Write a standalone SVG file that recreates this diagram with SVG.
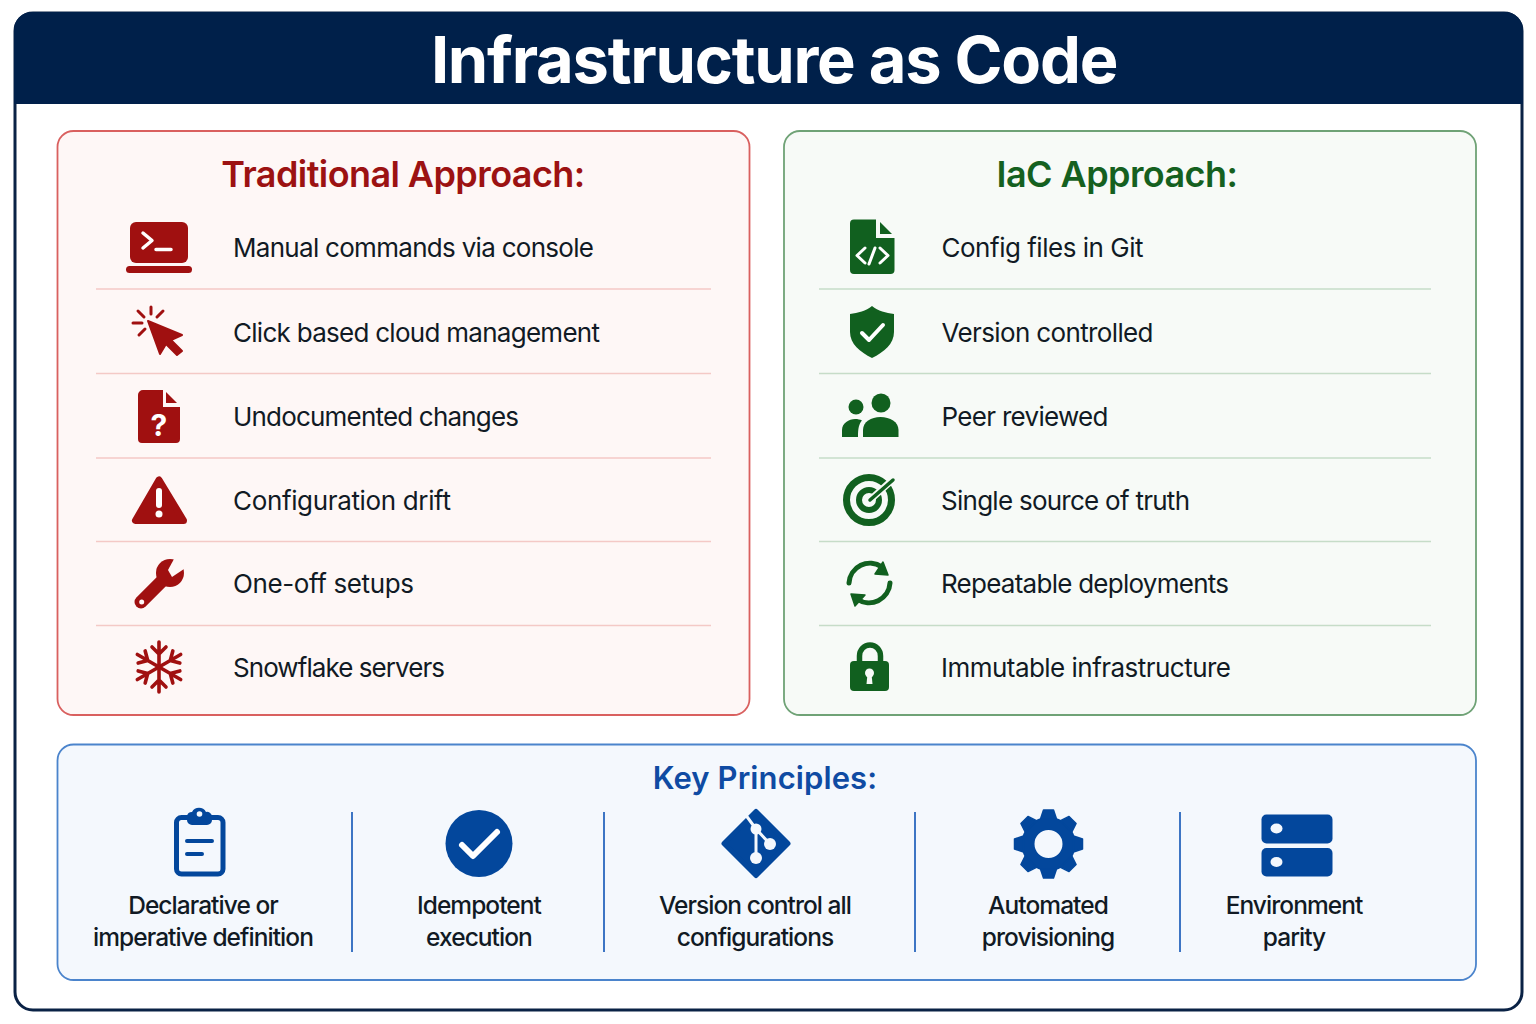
<svg xmlns="http://www.w3.org/2000/svg" width="1536" height="1024" viewBox="0 0 1536 1024">
<style>
text{font-family:"Inter","Liberation Sans",sans-serif}
.row{font-size:26px;fill:#111a24;font-weight:400}
.pr{font-size:24.500px;fill:#111a24;font-weight:500;text-anchor:middle;letter-spacing:-.95px}
.h{font-size:36px;font-weight:600;text-anchor:middle;letter-spacing:-.58px}
.r{fill:#a01010;stroke:none}
.g{fill:#11601f;stroke:none}
.b{fill:#03479c;stroke:none}
.dr{stroke:#f4c9c6;stroke-width:1.6}
.dg{stroke:#c6dcc8;stroke-width:1.6}
.sep{stroke:#3d75c4;stroke-width:2}
.wl{fill:none;stroke:#fff;stroke-linecap:round;stroke-linejoin:round}
</style>
<defs>
<g id="arm"><path d="M0,0V-25M-7,-20L0,-13L7,-20" fill="none" stroke="#a01010" stroke-width="3.600" stroke-linecap="round" stroke-linejoin="round"/></g>
<polygon id="tooth" points="-8,-25 -5,-34 5,-34 8,-25" fill="#03479c" stroke="#03479c" stroke-width="1.500" stroke-linejoin="round"/>
</defs>
<rect width="1536" height="1024" fill="#fff"/>
<g id="frame">
<rect x="15" y="13" width="1507" height="997" rx="18" fill="#fff" stroke="#0a2245" stroke-width="3"/>
<path d="M14,104V30A18,18 0 0 1 32,12H1505A18,18 0 0 1 1523,30V104Z" fill="#00204a"/>
<text x="774" y="83" font-size="65" font-weight="650" fill="#fff" text-anchor="middle" letter-spacing="-1.250">Infrastructure as Code</text>
</g>
<g id="traditional">
<rect x="57.500" y="131" width="692" height="584" rx="16" fill="#fef7f6" stroke="#d9605f" stroke-width="1.800"/>
<text class="h" x="403" y="187" fill="#9c1212">Traditional Approach:</text>
<g id="t1"><rect class="r" x="130" y="222" width="58" height="41" rx="6"/><rect class="r" x="126" y="266" width="66" height="7" rx="3.500"/><path class="wl" stroke-width="3.500" d="M143,233L152,240.500L143,248M156,249.500H171"/><text class="row" x="233" y="256.500" textLength="361">Manual commands via console</text></g>
<line class="dr" x1="96" y1="289" x2="711" y2="289"/>
<g id="t2"><path class="r" d="M148,321L182,335L171,340L182,351L177,355L166,344L160,354Z" style="stroke:#a01010;stroke-width:2;stroke-linejoin:round"/><path d="M151,307V314M138,311L144,317M163,311L157,317M133,323H142M139,335L145,329" stroke="#a01010" stroke-width="3" stroke-linecap="round"/><text class="row" x="233" y="341.500" textLength="367">Click based cloud management</text></g>
<line class="dr" x1="96" y1="373.500" x2="711" y2="373.500"/>
<g id="t3"><path class="r" d="M143,390H163V407H180V439A4,4 0 0 1 176,443H142A4,4 0 0 1 138,439V395A5,5 0 0 1 143,390Z"/><path class="r" d="M166,392L177,403H166Z"/><text x="159" y="435.500" font-size="30" font-weight="700" fill="#fff" text-anchor="middle">?</text><text class="row" x="233" y="425.500" textLength="286">Undocumented changes</text></g>
<line class="dr" x1="96" y1="458" x2="711" y2="458"/>
<g id="t4"><path class="r" style="stroke:#a01010;stroke-width:7;stroke-linejoin:round" d="M159,480L135.500,520.500H183.500Z"/><path d="M159,491V505" stroke="#fff" stroke-width="6" stroke-linecap="round"/><circle cx="159" cy="514" r="3.500" fill="#fff"/><text class="row" x="233" y="509.500" textLength="218">Configuration drift</text></g>
<line class="dr" x1="96" y1="541.500" x2="711" y2="541.500"/>
<g id="t5"><circle class="r" cx="170" cy="573" r="14"/><path d="M141,602L168,575" stroke="#a01010" stroke-width="13" stroke-linecap="round"/><path d="M174,559L168,570L172,577L184,569L190,555Z" fill="#fef7f6"/><circle cx="141.700" cy="602" r="2.500" fill="#fef7f6"/><text class="row" x="233" y="592.500" textLength="181">One-off setups</text></g>
<line class="dr" x1="96" y1="625.500" x2="711" y2="625.500"/>
<g id="t6"><use href="#arm" transform="translate(159,667)"/><use href="#arm" transform="translate(159,667) rotate(60)"/><use href="#arm" transform="translate(159,667) rotate(120)"/><use href="#arm" transform="translate(159,667) rotate(180)"/><use href="#arm" transform="translate(159,667) rotate(240)"/><use href="#arm" transform="translate(159,667) rotate(300)"/><text class="row" x="233" y="676.500" textLength="212">Snowflake servers</text></g>
</g>
<g id="iac">
<rect x="784" y="131" width="692" height="584" rx="16" fill="#f7faf7" stroke="#6fa276" stroke-width="1.800"/>
<text class="h" x="1117" y="187" fill="#15601f">IaC Approach:</text>
<g id="g1"><path class="g" d="M854,219.500H876V238H894.500V270A4,4 0 0 1 890.500,274H854A4,4 0 0 1 850,270V223.500A4,4 0 0 1 854,219.500Z"/><path class="g" d="M880,222L892,234H880Z"/><path class="wl" stroke-width="3" d="M865,248L857,255.500L865,263M875,248L869,264M880,248L888,255.500L880,263"/><text class="row" x="941.500" y="256.500" textLength="202">Config files in Git</text></g>
<line class="dg" x1="819" y1="289" x2="1431" y2="289"/>
<g id="g2"><path class="g" d="M872,306C866,311 858,313 850,314V332C850,344 860,352 872,358C884,352 894,344 894,332V314C886,313 878,311 872,306Z"/><path class="wl" stroke-width="4" d="M862,333L869,340L883,325"/><text class="row" x="941.500" y="341.500" textLength="212">Version controlled</text></g>
<line class="dg" x1="819" y1="373.500" x2="1431" y2="373.500"/>
<g id="g3"><circle class="g" cx="881" cy="403" r="9.500"/><circle class="g" cx="856" cy="407" r="7.500"/><path class="g" d="M863,437V430C863,422 871,417 880.500,417C890,417 898.500,422 898.500,430V437Z"/><path class="g" d="M842,437V430C842,423 849,419 855,419C858,419 860,419.500 862,420.500C859,424 858,428 858,437Z"/><text class="row" x="941.500" y="425.500" textLength="167">Peer reviewed</text></g>
<line class="dg" x1="819" y1="458" x2="1431" y2="458"/>
<g id="g4"><circle cx="869" cy="500" r="22.500" fill="none" stroke="#11601f" stroke-width="7"/><circle cx="869" cy="500" r="10" fill="none" stroke="#11601f" stroke-width="6"/><path d="M870,500L890,482" stroke="#f7faf7" stroke-width="7"/><path d="M870,500L893,480" stroke="#11601f" stroke-width="3.500" stroke-linecap="round"/><text class="row" x="941" y="509.500" textLength="249">Single source of truth</text></g>
<line class="dg" x1="819" y1="541.500" x2="1431" y2="541.500"/>
<g id="g5"><path d="M849,583A21,21 0 0 1 882,567M890,583A21,21 0 0 1 857,599" fill="none" stroke="#11601f" stroke-width="5" stroke-linecap="round"/><path class="g" d="M883,562L888,575L875,574Z" style="stroke:#11601f;stroke-width:1.500;stroke-linejoin:round"/><path class="g" d="M851,594L855,606L865,595Z" style="stroke:#11601f;stroke-width:1.500;stroke-linejoin:round"/><text class="row" x="941" y="592.500" textLength="288">Repeatable deployments</text></g>
<line class="dg" x1="819" y1="625.500" x2="1431" y2="625.500"/>
<g id="g6"><path d="M859.500,663V656A10.500,11 0 0 1 880.500,656V663" fill="none" stroke="#11601f" stroke-width="5.500"/><rect class="g" x="850" y="661" width="39" height="30" rx="4"/><circle cx="869.500" cy="673" r="4.500" fill="#f7faf7"/><path d="M867.500,674H871.500L872.500,684H866.500Z" fill="#f7faf7"/><text class="row" x="941" y="676.500" textLength="290">Immutable infrastructure</text></g>
</g>
<g id="principles">
<rect x="57.500" y="744.500" width="1418.500" height="235.500" rx="16" fill="#f4f8fd" stroke="#4b84cc" stroke-width="1.800"/>
<text x="765" y="789" font-size="31" font-weight="600" fill="#0f4ba3" text-anchor="middle" letter-spacing=".1">Key Principles:</text>
<line class="sep" x1="352" y1="812" x2="352" y2="952"/><line class="sep" x1="604" y1="812" x2="604" y2="952"/><line class="sep" x1="915" y1="812" x2="915" y2="952"/><line class="sep" x1="1180" y1="812" x2="1180" y2="952"/>
<g id="p1"><rect x="176.500" y="817.500" width="46.500" height="56.500" rx="5" fill="none" stroke="#03479c" stroke-width="5"/><path class="b" d="M187,816A5,5 0 0 1 192,812A8,8 0 0 1 206,812A5,5 0 0 1 212,816V820A5,5 0 0 1 207,825H192A5,5 0 0 1 187,820Z"/><circle cx="199.500" cy="814" r="2.800" fill="#f4f8fd"/><path d="M187,841H212M187,854H202" stroke="#03479c" stroke-width="4" stroke-linecap="round"/><text class="pr" x="203" y="914">Declarative or</text><text class="pr" x="203" y="945.500">imperative definition</text></g>
<g id="p2"><circle class="b" cx="479" cy="843.500" r="33.500"/><path class="wl" stroke-width="6" d="M462,845L473,856L497,832"/><text class="pr" x="479" y="914">Idempotent</text><text class="pr" x="479" y="945.500">execution</text></g>
<g id="p3"><path class="b" style="stroke:#03479c;stroke-width:5;stroke-linejoin:round" d="M756,811.500L788,843.500L756,875.500L724,843.500Z"/><path d="M745,814L756,829L770,844M756,829V858" fill="none" stroke="#f4f8fd" stroke-width="3"/><circle cx="756" cy="829" r="5.500" fill="#f4f8fd"/><circle cx="756" cy="858" r="6" fill="#f4f8fd"/><circle cx="770" cy="844" r="6" fill="#f4f8fd"/><text class="pr" x="755" y="914">Version control all</text><text class="pr" x="755" y="945.500">configurations</text></g>
<g id="p4"><circle cx="1048.500" cy="844" r="20.500" fill="none" stroke="#03479c" stroke-width="13"/><use href="#tooth" transform="translate(1048.500,844)"/><use href="#tooth" transform="translate(1048.500,844) rotate(45)"/><use href="#tooth" transform="translate(1048.500,844) rotate(90)"/><use href="#tooth" transform="translate(1048.500,844) rotate(135)"/><use href="#tooth" transform="translate(1048.500,844) rotate(180)"/><use href="#tooth" transform="translate(1048.500,844) rotate(225)"/><use href="#tooth" transform="translate(1048.500,844) rotate(270)"/><use href="#tooth" transform="translate(1048.500,844) rotate(315)"/><text class="pr" x="1048" y="914">Automated</text><text class="pr" x="1048" y="945.500">provisioning</text></g>
<g id="p5"><rect class="b" x="1261.500" y="814.500" width="71" height="29" rx="5"/><rect class="b" x="1261.500" y="848" width="71" height="28.500" rx="5"/><ellipse cx="1276.500" cy="828.500" rx="6" ry="5" fill="#f4f8fd"/><ellipse cx="1276.500" cy="862" rx="6" ry="5" fill="#f4f8fd"/><text class="pr" x="1294" y="914">Environment</text><text class="pr" x="1294" y="945.500">parity</text></g>
</g>
</svg>
